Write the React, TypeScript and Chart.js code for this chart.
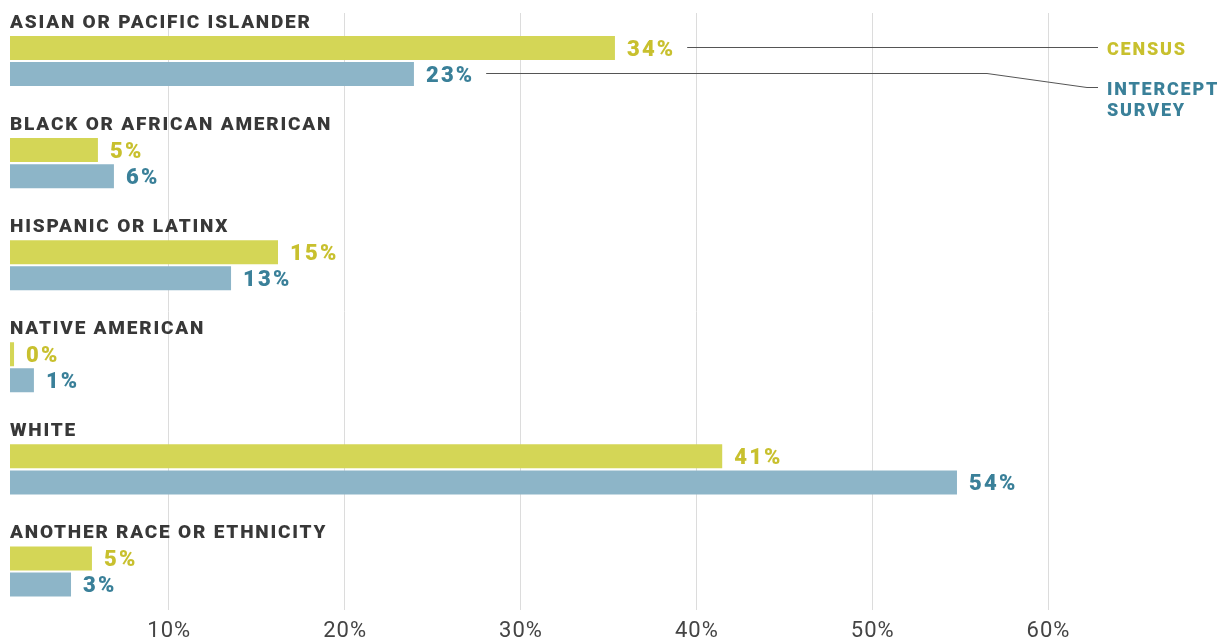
import { useEffect, useRef } from "react";
import { Chart, registerables } from "chart.js";

Chart.register(...registerables);

// ---- data ----
const categories = [
  "ASIAN OR PACIFIC ISLANDER",
  "BLACK OR AFRICAN AMERICAN",
  "HISPANIC OR LATINX",
  "NATIVE AMERICAN",
  "WHITE",
  "ANOTHER RACE OR ETHNICITY",
];
const censusValues = [34.4, 5.0, 15.24, 0.23, 40.5, 4.66];
const interceptValues = [22.97, 5.91, 12.57, 1.36, 53.85, 3.47];
const censusLabels = ["34%", "5%", "15%", "0%", "41%", "5%"];
const interceptLabels = ["23%", "6%", "13%", "1%", "54%", "3%"];
const tickValues = [10, 20, 30, 40, 50, 60];
const censusLegend = ["CENSUS"];
const interceptLegend = ["INTERCEPT", "SURVEY"];

// ---- style ----
const CENSUS_BAR = "rgb(212,214,86)";
const INTERCEPT_BAR = "rgb(141,181,200)";
const CENSUS_TEXT = "rgb(200,192,46)";
const INTERCEPT_TEXT = "rgb(58,128,153)";
const LABEL_COLOR = "#383838";
const TICK_COLOR = "#444444";
const GRID_COLOR = "#dcdcdc";
const LEADER_COLOR = "#555555";
const FONT = "Roboto, 'Noto Sans', sans-serif";

const X_MAX = 68.75; // bar scale span
const GRID_MIN = 1.0; // grid scale value at the left edge

function setLS(ctx: CanvasRenderingContext2D, v: string) {
  try {
    (ctx as any).letterSpacing = v;
  } catch (e) {}
}

const overlayPlugin = {
  id: "overlay",
  beforeDatasetsDraw(chart: any) {
    const ctx: CanvasRenderingContext2D = chart.ctx;
    const g = chart.scales.x2;
    const area = chart.chartArea;
    ctx.save();
    ctx.strokeStyle = GRID_COLOR;
    ctx.lineWidth = 1;
    for (const t of tickValues) {
      const px = Math.round(g.getPixelForValue(t)) + 0.5;
      ctx.beginPath();
      ctx.moveTo(px, area.top + 3);
      ctx.lineTo(px, area.bottom - 12.5);
      ctx.stroke();
    }
    // tick labels
    ctx.fillStyle = TICK_COLOR;
    ctx.font = `400 22px ${FONT}`;
    setLS(ctx, "1px");
    ctx.textAlign = "center";
    ctx.textBaseline = "alphabetic";
    for (const t of tickValues) {
      const px = g.getPixelForValue(t);
      ctx.fillText(`${t}%`, px + 1, area.bottom + 14.5);
    }
    ctx.restore();
  },
  afterDatasetsDraw(chart: any) {
    const ctx: CanvasRenderingContext2D = chart.ctx;
    const area = chart.chartArea;
    const m0 = chart.getDatasetMeta(0).data;
    const m1 = chart.getDatasetMeta(1).data;
    ctx.save();
    ctx.textAlign = "left";
    ctx.textBaseline = "alphabetic";

    // category labels
    ctx.font = `900 19px ${FONT}`;
    setLS(ctx, "1.8px");
    ctx.fillStyle = LABEL_COLOR;
    categories.forEach((c, i) => {
      const el = m0[i];
      const top = el.y - el.height / 2;
      ctx.fillText(c, area.left, top - 8);
    });

    // value labels
    ctx.font = `900 22px ${FONT}`;
    setLS(ctx, "2.2px");
    const labelEnds: number[][] = [[], []];
    [
      [m0, censusLabels, CENSUS_TEXT],
      [m1, interceptLabels, INTERCEPT_TEXT],
    ].forEach(([meta, labels, color]: any, s) => {
      ctx.fillStyle = color;
      labels.forEach((lab: string, i: number) => {
        const el = meta[i];
        const x = el.x + 12;
        ctx.fillText(lab, x, el.y + 7.5);
        labelEnds[s][i] = x + ctx.measureText(lab).width - 2.2;
      });
    });

    // legend
    const legendX = area.right - 112;
    const cy = Math.round(m0[0].y) - 0.5;
    const iy = Math.round(m1[0].y) - 0.5;
    const iy2 = iy + 14;
    ctx.font = `900 18px ${FONT}`;
    setLS(ctx, "1.8px");
    ctx.fillStyle = CENSUS_TEXT;
    censusLegend.forEach((t, k) => ctx.fillText(t, legendX, cy + 7 + k * 21));
    ctx.fillStyle = INTERCEPT_TEXT;
    interceptLegend.forEach((t, k) => ctx.fillText(t, legendX, iy2 + 7 + k * 21));

    // leader lines
    ctx.strokeStyle = LEADER_COLOR;
    ctx.lineWidth = 1;
    ctx.beginPath();
    ctx.moveTo(labelEnds[0][0] + 14, cy);
    ctx.lineTo(legendX - 9, cy);
    ctx.stroke();
    ctx.beginPath();
    ctx.moveTo(labelEnds[1][0] + 14, iy);
    ctx.lineTo(legendX - 120, iy);
    ctx.lineTo(legendX - 20, iy2);
    ctx.lineTo(legendX - 9, iy2);
    ctx.stroke();
    ctx.restore();
  },
};

export default function App() {
  const ref = useRef<HTMLCanvasElement | null>(null);
  useEffect(() => {
    if (!ref.current) return;
    const chart = new Chart(ref.current, {
      type: "bar",
      data: {
        labels: categories,
        datasets: [
          {
            label: "Census",
            data: censusValues,
            backgroundColor: CENSUS_BAR,
            borderWidth: 0,
            xAxisID: "x",
            yAxisID: "y",
          },
          {
            label: "Intercept Survey",
            data: interceptValues,
            backgroundColor: INTERCEPT_BAR,
            borderWidth: 0,
            xAxisID: "x",
            yAxisID: "y",
          },
        ],
      },
      options: {
        animation: false,
        responsive: false,
        devicePixelRatio: 1,
        indexAxis: "y",
        events: [],
        layout: { padding: { left: 10, right: 10, top: 10, bottom: 19.5 } },
        plugins: {
          legend: { display: false },
          tooltip: { enabled: false },
          title: { display: false },
        },
        datasets: {
          bar: { categoryPercentage: 52 / 102.08, barPercentage: 24 / 26 },
        },
        scales: {
          x: { type: "linear", display: false, min: 0, max: X_MAX },
          x2: {
            type: "linear",
            display: false,
            position: "bottom",
            min: GRID_MIN,
            max: GRID_MIN + X_MAX,
          },
          y: { type: "category", display: false, offset: true },
        },
      },
      plugins: [overlayPlugin],
    } as any);
    return () => chart.destroy();
  }, []);
  return (
    <div style={{ position: "absolute", left: 0, top: 0, width: 1229, height: 642, background: "#fff" }}>
      <canvas ref={ref} width={1229} height={642} style={{ display: "block" }} />
    </div>
  );
}
